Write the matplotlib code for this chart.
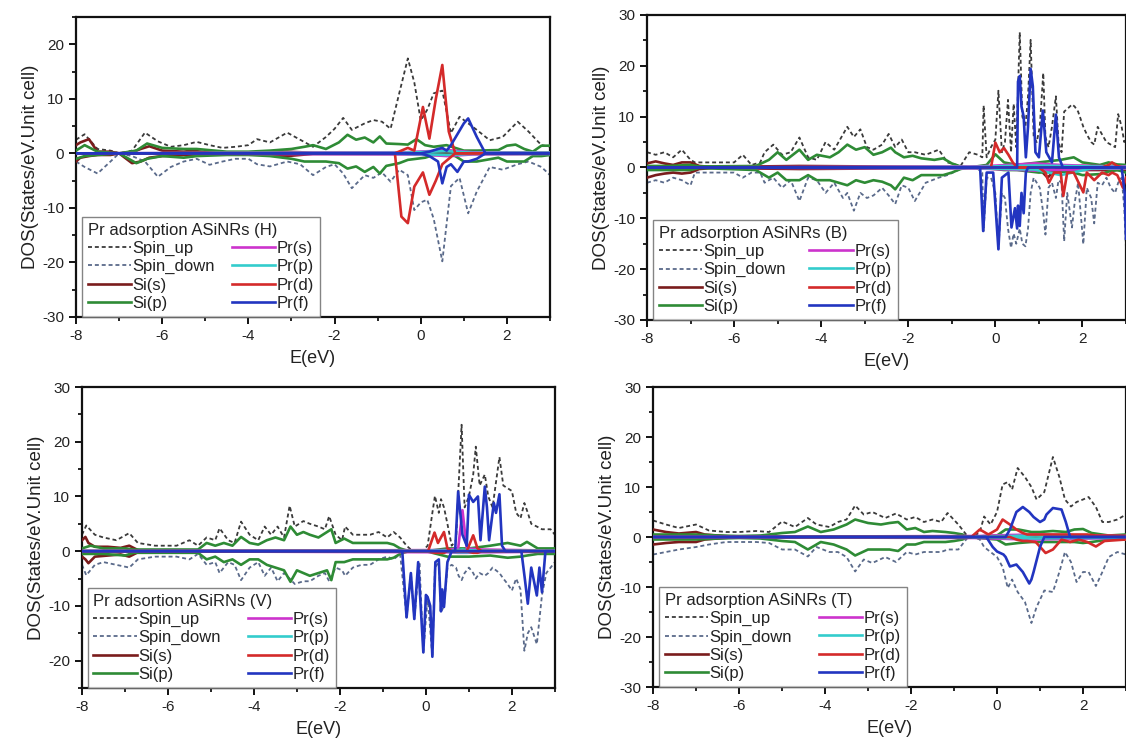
import matplotlib
matplotlib.use("Agg")
import matplotlib.pyplot as plt
from matplotlib.ticker import MultipleLocator

plt.rcParams['font.family'] = ['Liberation Sans', 'DejaVu Sans']
plt.rcParams['axes.unicode_minus'] = False

# ---------------- legend / labels ----------------
series_labels = ["Spin_up", "Spin_down", "Si(s)", "Si(p)", "Pr(s)", "Pr(p)", "Pr(d)", "Pr(f)"]
panel_titles = ["Pr adsorption ASiNRs (H)", "Pr adsorption ASiNRs (B)",
                "Pr adsortion ASiRNs (V)", "Pr adsorption ASiNRs (T)"]
x_ticks = [-8, -6, -4, -2, 0, 2]
x_label = "E(eV)"
y_label = "DOS(States/eV.Unit cell)"

# ================= Panel H =================
H_tot_E = [-8, -7.8, -7.5, -7.2, -7.0, -6.7, -6.4, -6.1, -5.8, -5.5, -5.2, -4.9, -4.6, -4.3, -4.0,
           -3.8, -3.5, -3.1, -2.8, -2.5, -2.2, -2.0, -1.8, -1.6, -1.3, -1.1, -0.9, -0.7, -0.5, -0.3,
           -0.15, 0.0, 0.15, 0.3, 0.5, 0.7, 0.9, 1.1, 1.3, 1.6, 1.9, 2.25, 2.5, 2.8, 3.0]
H_spin_up = [2.5, 3.5, 0.8, 0.5, 0.0, 0.5, 3.8, 2.2, 1.2, 1.5, 2.1, 1.5, 1.0, 1.2, 1.5,
             2.6, 2.0, 3.8, 2.5, 1.2, 3.0, 4.5, 6.5, 4.3, 5.5, 6.1, 5.8, 4.5, 11.0, 17.4,
             13.0, 6.0, 8.0, 11.0, 11.5, 3.7, 6.7, 5.5, 4.3, 2.4, 3.0, 5.8, 4.0, 1.5, 1.2]
H_spin_down = [-1.5, -2.5, -3.7, -1.5, 0.0, -0.5, -1.5, -4.3, -2.5, -1.5, -1.0, -2.1, -1.5, -1.0, -1.0,
               -2.0, -2.4, -1.5, -2.0, -4.0, -2.5, -2.0, -3.7, -6.4, -4.0, -4.5, -3.5, -5.2, -3.0, -4.0,
               -10.4, -9.0, -8.5, -12.0, -19.8, -6.0, -4.5, -11.0, -7.0, -2.5, -3.0, -2.0, -1.5, -2.5, -4.0]

H_sis_E = [-8, -7.9, -7.7, -7.5, -7.2, -7.0, -6.7, -6.5, -6.3, -6.0, -5.5, -5.3, -5.0, -4.0, -3.1,
           -2.5, -1.0, 0.0, 1.0, 2.0, 3.0]
H_sis_up = [1.5, 2.0, 2.6, 0.3, 0.3, 0.0, 0.2, 0.8, 1.3, 0.5, 0.3, 0.5, 0.2, 0.1, 0.3,
            0.1, 0.1, 0.1, 0.1, 0.1, 0.1]
H_sis_dn = [-1.5, -0.8, -0.5, -0.3, -0.3, 0.0, -1.8, -1.5, -0.8, -0.5, -0.3, -0.5, -0.2, -0.1, -0.5,
            -0.1, -0.1, -0.1, -0.1, -0.1, -0.1]

H_sip_E = [-8, -7.8, -7.5, -7.0, -6.6, -6.35, -6.0, -5.5, -5.2, -4.5, -4.0, -3.5, -3.0, -2.7, -2.5,
           -2.2, -1.9, -1.7, -1.5, -1.3, -1.1, -0.95, -0.8, -0.5, -0.3, -0.1, 0.1, 0.3, 0.6, 0.8,
           1.0, 1.3, 1.8, 2.0, 2.2, 2.4, 2.6, 2.8, 3.0]
H_sip_up = [0.5, 1.5, 0.3, 0.0, 0.5, 1.8, 1.0, 0.8, 0.8, 0.3, 0.3, 0.5, 0.8, 1.2, 1.5,
            0.8, 2.0, 3.4, 2.5, 2.9, 2.0, 3.1, 1.8, 1.7, 1.6, 2.6, 1.5, 1.2, 1.5, 1.0,
            0.5, 0.5, 0.6, 1.4, 1.6, 0.8, 0.3, 1.4, 1.4]
H_sip_dn = [-1.0, -0.5, -0.3, 0.0, -1.8, -1.0, -0.5, -0.8, -0.5, -0.3, -0.3, -0.5, -1.0, -1.5, -1.5,
            -1.5, -1.8, -2.8, -2.4, -3.4, -2.5, -3.7, -2.3, -1.8, -1.2, -1.0, -0.8, -0.3, -0.3, -0.5,
            -1.5, -1.5, -0.8, -1.5, -1.5, -1.5, -0.5, -0.5, -0.3]

H_prs_E = [-8, -0.4, 0.2, 0.6, 1.2, 3.0]
H_prs_up = [0.0, 0.2, 0.4, 0.6, 0.2, 0.1]
H_prs_dn = [0.0, -0.2, -0.3, -0.5, -0.2, -0.1]
H_prp_up = [0.0, 0.1, 0.3, 0.4, 0.1, 0.1]
H_prp_dn = [0.0, -0.1, -0.2, -0.3, -0.1, -0.1]

H_prd_E = [-8, -0.6, -0.45, -0.3, -0.15, 0.05, 0.2, 0.35, 0.5, 0.65, 0.8, 3.0]
H_prd_up = [0.0, 0.0, 0.5, 1.0, 0.5, 8.5, 2.7, 10.0, 16.2, 4.0, 0.0, 0.0]
H_prd_dn = [0.0, 0.0, -11.6, -12.8, -6.1, -3.5, -7.6, -5.0, -2.0, -1.0, 0.0, 0.0]

H_prf_E = [-8, 0.0, 0.2, 0.4, 0.5, 0.6, 0.7, 0.85, 1.0, 1.1, 1.3, 1.5, 3.0]
H_prf_up = [0.0, 0.0, 0.3, 0.8, 1.0, 0.5, 1.5, 3.5, 5.5, 6.4, 3.0, 0.0, 0.0]
H_prf_dn = [0.0, 0.0, -0.5, -1.5, -5.5, -2.5, -2.0, -3.4, -1.5, -1.5, -1.0, 0.0, 0.0]

# ================= Panel B =================
B_tot_E = [-8, -7.8, -7.6, -7.4, -7.2, -7.0, -6.9, -6.5, -6.0, -5.8, -5.6, -5.4, -5.3, -5.1, -4.9,
           -4.7, -4.5, -4.3, -4.1, -3.9, -3.7, -3.5, -3.4, -3.25, -3.1, -2.95, -2.8, -2.6, -2.45, -2.3,
           -2.15, -2.0, -1.85, -1.6, -1.3, -1.1, -0.8, -0.6, -0.4, -0.3, -0.27, -0.2, -0.1, 0.0, 0.07,
           0.15, 0.22, 0.29, 0.36, 0.42, 0.48, 0.56, 0.62, 0.69, 0.75, 0.81, 0.88, 0.95, 1.02, 1.1,
           1.15, 1.22, 1.3, 1.39, 1.45, 1.52, 1.58, 1.65, 1.76, 1.82, 1.9, 2.02, 2.1, 2.2, 2.27,
           2.35, 2.45, 2.55, 2.65, 2.75, 2.82, 2.9, 2.96, 3.0]
B_spin_up = [3.0, 2.5, 3.0, 2.0, 3.5, 1.5, 1.0, 1.0, 1.0, 2.5, 0.5, 1.0, 3.0, 4.5, 2.5,
             3.0, 5.9, 2.0, 1.5, 5.0, 3.5, 6.5, 8.0, 6.0, 7.5, 4.0, 3.5, 4.5, 6.6, 4.0,
             5.5, 3.0, 3.0, 2.5, 3.5, 1.0, 0.3, 3.0, 2.5, 2.0, 12.2, 2.0, 4.0, 5.5, 15.1,
             3.0, 5.0, 13.3, 3.0, 12.5, 4.0, 26.6, 10.0, 8.0, 14.0, 25.1, 6.0, 5.0, 8.0, 18.6,
             6.0, 4.0, 8.0, 14.0, 5.0, 3.0, 11.0, 11.5, 12.4, 12.0, 11.0, 8.0, 6.5, 5.0, 4.5,
             8.0, 6.5, 5.0, 4.5, 4.0, 10.5, 8.0, 5.0, 6.0]
B_spin_down = [-3.0, -2.5, -3.0, -2.0, -2.5, -3.5, -1.0, -1.0, -1.0, -2.0, -1.0, -1.0, -3.0, -2.0, -4.0,
               -2.5, -6.6, -2.0, -2.5, -5.0, -3.0, -6.0, -5.0, -8.5, -5.0, -6.0, -5.5, -4.0, -5.5, -7.2,
               -3.5, -4.0, -6.6, -3.0, -2.0, -1.5, -0.3, 0.0, -0.3, -1.0, -12.5, -2.0, -2.0, -5.0, -16.0,
               -5.0, -6.0, -12.0, -15.8, -13.0, -15.0, -12.0, -15.0, -15.5, -12.0, -5.0, -2.0, -3.0, -4.0, -9.0,
               -13.2, -4.0, -3.0, -6.0, -2.5, -3.0, -14.5, -5.0, -11.8, -7.0, -3.0, -15.1, -4.0, -6.0, -11.0,
               -3.0, -3.5, -2.0, -4.0, -5.0, -3.0, -2.0, -8.0, -16.0]

B_sis_E = [-8, -7.8, -7.6, -7.4, -7.2, -7.0, -6.8, -6.5, -4.5, -1.0, 1.0, 1.2, 1.4, 2.0, 3.0]
B_sis_up = [0.8, 1.2, 0.8, 0.5, 1.0, 1.0, 0.3, 0.1, 0.3, 0.1, 0.1, 0.3, 0.1, 0.3, 0.2]
B_sis_dn = [-2.0, -1.5, -1.2, -1.0, -1.2, -1.0, -0.3, -0.1, -0.3, -0.1, -0.2, -2.0, -0.3, -0.5, -0.5]

B_sip_E = [-8, -7.5, -7.0, -6.8, -5.5, -5.2, -5.0, -4.8, -4.5, -4.3, -4.1, -3.8, -3.6, -3.4, -3.2,
           -3.0, -2.8, -2.6, -2.4, -2.3, -2.1, -1.9, -1.7, -1.4, -1.2, -1.0, -0.8, -0.6, -0.2, 0.0,
           0.2, 0.5, 1.0, 1.5, 1.8, 2.0, 2.4, 2.6, 2.8, 3.0]
B_sip_up = [0.3, 0.3, 0.5, 0.2, 0.3, 1.5, 3.0, 1.5, 3.5, 1.5, 2.5, 2.0, 3.0, 4.5, 3.5,
            4.0, 2.5, 3.0, 3.9, 3.0, 2.0, 2.3, 1.8, 1.5, 1.8, 0.8, 0.2, 0.0, 0.5, 2.6,
            1.0, 0.5, 1.0, 1.5, 2.0, 1.0, 0.5, 1.0, 0.6, 0.5]
B_sip_dn = [-0.5, -0.5, -0.5, -0.1, -0.5, -2.0, -1.0, -2.5, -2.5, -1.5, -2.5, -2.5, -3.0, -3.5, -2.5,
            -3.0, -2.5, -2.8, -3.5, -4.3, -2.0, -2.5, -1.5, -1.5, -1.5, -1.0, -0.3, 0.0, -0.2, -0.3,
            -0.5, -0.5, -1.0, -0.8, -1.0, -1.5, -1.3, -0.8, -0.5, -1.0]

B_prs_E = [-8, -0.4, 0.3, 0.9, 1.5, 2.2, 3.0]
B_prs_up = [0.0, 0.2, 0.5, 0.8, 0.5, 0.3, 0.2]
B_prs_dn = [0.0, -0.2, -0.4, -0.6, -0.5, -0.3, -0.2]
B_prp_up = [0.0, 0.1, 0.3, 0.4, 0.3, 0.2, 0.1]
B_prp_dn = [0.0, -0.1, -0.3, -0.4, -1.5, -0.2, -0.1]

B_prd_E = [-8, -0.1, 0.0, 0.1, 0.2, 0.3, 0.4, 0.5, 1.0, 1.15, 1.23, 1.35, 1.5, 1.56, 1.65,
           1.8, 2.02, 2.1, 2.27, 2.45, 2.6, 2.68, 2.8, 2.93, 3.0]
B_prd_up = [0.0, 0.0, 4.9, 3.0, 3.8, 2.5, 1.0, 0.0, 0.0, 0.0, 0.0, 0.0, 0.0, 0.0, 0.0,
            0.0, 0.0, 0.0, 0.0, 0.0, 0.5, 1.0, 0.3, 0.0, 0.0]
B_prd_dn = [0.0, 0.0, 0.0, 0.0, 0.0, 0.0, 0.0, 0.0, 0.0, -1.0, -3.0, -1.0, -1.0, -5.6, -1.0,
            -1.0, -4.9, -1.0, -2.5, -1.0, -1.5, -1.0, -1.5, -4.0, -2.0]

B_prf_E = [-8, -0.35, -0.28, -0.2, -0.05, 0.07, 0.15, 0.3, 0.37, 0.45, 0.5, 0.52, 0.56, 0.6, 0.65,
           0.7, 0.75, 0.81, 0.86, 0.92, 1.0, 1.09, 1.17, 1.3, 1.39, 1.46, 1.55, 2.9, 2.97, 3.0]
B_prf_up = [0.0, 0.0, 0.0, 0.0, 0.0, 0.0, 0.0, 0.0, 0.0, 0.0, 0.0, 16.9, 18.0, 12.0, 10.0,
            2.0, 8.0, 19.4, 16.0, 3.0, 2.0, 11.2, 3.0, 1.0, 10.4, 2.0, 0.0, 0.0, 0.0, 0.0]
B_prf_dn = [0.0, 0.0, -12.5, -1.0, -1.0, -16.1, -2.0, -1.0, -11.8, -8.0, -12.0, -7.5, -11.5, -5.0, -9.0,
            -1.0, 0.0, 0.0, 0.0, 0.0, 0.0, 0.0, 0.0, 0.0, 0.0, 0.0, 0.0, 0.0, -5.0, -14.0]

# ================= Panel V =================
V_tot_E = [-8, -7.9, -7.7, -7.5, -7.2, -6.9, -6.7, -6.3, -5.8, -5.5, -5.3, -5.1, -4.9, -4.8, -4.6,
           -4.45, -4.3, -4.1, -3.9, -3.75, -3.6, -3.45, -3.3, -3.17, -3.05, -2.85, -2.7, -2.5, -2.35, -2.25,
           -2.1, -1.95, -1.88, -1.7, -1.5, -1.3, -1.1, -0.9, -0.75, -0.6, -0.45, -0.35, -0.27, -0.15, -0.06,
           0.04, 0.15, 0.21, 0.3, 0.35, 0.42, 0.5, 0.6, 0.7, 0.76, 0.83, 0.9, 1.0, 1.1, 1.16,
           1.25, 1.37, 1.45, 1.55, 1.71, 1.8, 1.9, 2.0, 2.1, 2.2, 2.29, 2.37, 2.45, 2.58, 2.7,
           2.8, 2.9, 3.0]
V_spin_up = [3.0, 4.7, 3.0, 2.5, 2.0, 3.3, 1.5, 1.0, 1.0, 2.0, 1.0, 2.5, 2.0, 4.2, 2.0,
             1.5, 5.4, 3.0, 2.0, 4.5, 3.0, 4.5, 2.5, 8.3, 4.5, 5.5, 5.0, 4.5, 4.0, 6.4,
             3.0, 2.0, 4.5, 3.0, 3.0, 3.0, 3.5, 2.5, 3.5, 2.5, 1.0, 0.3, 0.2, 0.1, 0.2,
             1.0, 7.0, 10.1, 7.0, 9.5, 8.0, 5.0, 1.0, 2.0, 12.0, 23.1, 8.0, 10.0, 14.0, 19.1,
             12.0, 14.0, 10.0, 8.0, 17.2, 12.0, 11.5, 11.0, 7.0, 6.0, 8.8, 7.0, 5.0, 4.5, 4.0,
             4.0, 4.0, 3.0]
V_spin_down = [-2.5, -4.4, -2.5, -2.0, -2.5, -3.0, -1.5, -1.0, -1.0, -1.5, -0.5, -2.5, -2.0, -4.0, -2.0,
               -2.5, -5.3, -3.0, -2.0, -4.5, -3.0, -5.5, -4.0, -5.0, -6.0, -5.5, -5.5, -4.5, -4.0, -5.5,
               -3.0, -3.5, -4.5, -3.0, -2.5, -2.5, -1.5, -1.0, -1.5, -0.5, -12.1, -4.0, -12.4, -2.0, -18.5,
               -8.4, -19.3, -3.0, -2.0, -11.0, -10.2, -3.0, -2.5, -3.0, -4.5, -5.3, -4.0, -3.0, -4.0, -5.0,
               -4.0, -4.5, -4.0, -3.0, -4.0, -5.0, -6.0, -7.2, -5.0, -7.0, -18.2, -15.0, -13.9, -17.0, -8.0,
               -4.0, -3.0, -2.0]

V_sis_E = [-8, -7.92, -7.85, -7.7, -7.4, -7.1, -6.9, -6.7, -6.5, 3.0]
V_sis_up = [2.0, 2.6, 1.5, 0.8, 0.8, 0.6, 1.0, 0.2, 0.0, 0.0]
V_sis_dn = [-1.0, -1.5, -2.2, -1.0, -0.8, -0.6, -1.0, -0.2, 0.0, 0.0]

V_sip_E = [-8, -7.8, -7.5, -7.0, -6.8, -5.3, -5.1, -4.9, -4.7, -4.5, -4.3, -4.1, -3.9, -3.7, -3.5,
           -3.3, -3.15, -3.0, -2.85, -2.7, -2.5, -2.3, -2.2, -2.1, -1.9, -1.7, -1.5, -1.3, -1.1, -0.9,
           -0.75, -0.6, -0.4, 0.0, 0.5, 1.0, 1.5, 1.9, 2.2, 2.35, 2.6, 3.0]
V_sip_up = [0.5, 1.0, 0.5, 0.5, 0.3, 0.3, 1.5, 1.0, 1.5, 1.0, 2.6, 1.5, 1.2, 2.0, 2.5,
            2.0, 4.5, 3.0, 3.5, 3.0, 2.5, 3.5, 4.0, 1.5, 2.3, 1.5, 1.5, 1.5, 1.5, 1.5,
            1.2, 0.5, 0.0, 0.0, 0.5, 0.5, 1.0, 1.5, 1.0, 1.7, 0.5, 0.5]
V_sip_dn = [-0.5, -0.5, -0.5, -0.8, -0.3, -0.3, -1.5, -1.0, -2.0, -1.5, -2.5, -1.5, -1.5, -2.5, -3.0,
            -3.5, -5.6, -3.5, -4.0, -4.5, -4.0, -3.5, -5.3, -2.0, -2.0, -1.5, -1.5, -1.5, -1.5, -1.5,
            -1.2, -0.5, 0.0, 0.0, -1.0, -1.0, -0.8, -1.2, -1.0, -0.8, -0.5, -0.5]

V_prs_E = [-8, 0.5, 0.75, 0.85, 0.95, 1.3, 3.0]
V_prs_up = [0.0, 0.2, 0.5, 7.5, 0.5, 0.3, 0.1]
V_prs_dn = [0.0, -0.2, -0.3, -0.3, -0.3, -0.2, -0.1]
V_prp_up = [0.0, 0.1, 0.2, 0.3, 0.2, 0.1, 0.1]
V_prp_dn = [0.0, -0.1, -0.2, -0.2, -0.2, -0.1, -0.1]

V_prd_E = [-8, 0.05, 0.2, 0.28, 0.42, 0.5, 0.6, 0.95, 1.1, 1.2, 1.3, 3.0]
V_prd_up = [0.0, 0.0, 3.4, 1.5, 3.5, 0.5, 0.0, 0.0, 2.9, 0.5, 0.0, 0.0]
V_prd_dn = [0.0, 0.0, -0.3, -0.3, -0.3, 0.0, 0.0, 0.0, -0.3, -0.3, 0.0, 0.0]

V_prf_E = [-8, -0.55, -0.45, -0.35, -0.27, -0.18, -0.06, 0.0, 0.04, 0.1, 0.15, 0.22, 0.3, 0.35, 0.38,
           0.42, 0.5, 0.6, 0.68, 0.75, 0.85, 0.95, 1.0, 1.1, 1.21, 1.27, 1.37, 1.42, 1.47, 1.58,
           1.63, 1.71, 1.77, 1.85, 2.22, 2.3, 2.37, 2.45, 2.58, 2.64, 2.7, 2.78, 3.0]
V_prf_up = [0.0, 0.0, 0.0, 0.0, 0.0, 0.0, 0.0, 0.0, 0.0, 0.0, 0.0, 0.0, 0.0, 0.0, 0.0,
            0.0, 0.0, 0.0, 0.0, 10.9, 3.0, 1.0, 10.3, 9.0, 10.0, 2.0, 11.8, 8.0, 2.0, 8.8,
            7.0, 10.4, 1.0, 0.0, 0.0, 0.0, 0.0, 0.0, 0.0, 0.0, 0.0, 0.0, 0.0]
V_prf_dn = [0.0, 0.0, -12.1, -4.0, -12.4, -2.0, -18.5, -8.0, -8.4, -10.0, -19.3, -2.0, -1.5, -11.0, -7.0,
            -10.2, -2.0, 0.0, 0.0, 0.0, 0.0, 0.0, 0.0, 0.0, 0.0, 0.0, 0.0, 0.0, 0.0, 0.0,
            0.0, 0.0, 0.0, 0.0, 0.0, -5.0, -9.6, -3.0, -8.1, -3.0, -7.5, 0.0, 0.0]

# ================= Panel T =================
T_tot_E = [-8, -7.7, -7.4, -7.0, -6.7, -6.3, -6.0, -5.6, -5.3, -5.0, -4.7, -4.4, -4.2, -3.9, -3.7,
           -3.5, -3.3, -3.1, -2.9, -2.6, -2.35, -2.1, -1.9, -1.7, -1.5, -1.3, -1.15, -0.9, -0.7, -0.55,
           -0.4, -0.3, -0.15, 0.0, 0.13, 0.25, 0.35, 0.48, 0.65, 0.8, 0.92, 1.1, 1.3, 1.45, 1.58,
           1.72, 1.85, 2.0, 2.13, 2.3, 2.45, 2.6, 2.8, 3.0]
T_spin_up = [3.3, 2.5, 1.8, 2.5, 1.3, 1.0, 1.0, 1.2, 1.0, 3.1, 2.0, 3.8, 2.5, 2.0, 3.0,
             3.5, 6.3, 4.5, 5.0, 3.8, 4.7, 3.5, 4.0, 3.0, 3.5, 3.0, 4.8, 2.5, 0.3, 0.0,
             1.0, 4.1, 2.5, 5.0, 10.5, 11.0, 9.5, 13.8, 12.0, 10.0, 7.5, 9.0, 16.0, 12.0, 7.5,
             6.1, 7.0, 7.5, 8.0, 6.0, 3.0, 3.0, 3.5, 4.5]
T_spin_down = [-3.5, -3.0, -2.5, -2.0, -1.5, -1.0, -1.0, -1.0, -1.2, -2.5, -2.5, -3.9, -2.0, -3.0, -3.0,
               -4.0, -6.9, -4.5, -5.2, -4.0, -5.0, -3.0, -3.5, -3.0, -3.0, -3.0, -2.5, -2.5, -0.3, 0.0,
               -0.5, -2.0, -3.0, -4.0, -6.0, -10.2, -8.5, -11.0, -13.0, -17.2, -14.0, -10.7, -11.0, -7.0, -3.0,
               -5.0, -9.0, -7.0, -7.0, -9.8, -7.0, -4.0, -3.0, -3.5]

T_sis_E = [-8, -7.7, -7.4, -7.0, -6.8, -6.5, -6.2, 3.0]
T_sis_up = [1.5, 1.0, 0.7, 1.0, 0.5, 0.3, 0.1, 0.0]
T_sis_dn = [-1.5, -1.2, -1.0, -1.0, -0.5, -0.3, -0.1, 0.0]

T_sip_E = [-8, -7.5, -7.0, -6.5, -6.0, -5.5, -5.0, -4.7, -4.4, -4.1, -3.8, -3.5, -3.3, -3.0, -2.7,
           -2.5, -2.3, -2.1, -1.9, -1.7, -1.5, -1.2, -1.0, -0.8, -0.7, 0.0, 0.2, 0.5, 0.8, 1.0,
           1.3, 1.6, 1.8, 2.0, 2.2, 2.6, 3.0]
T_sip_up = [0.5, 0.5, 0.5, 0.3, 0.2, 0.3, 0.8, 1.0, 2.1, 1.0, 1.5, 2.5, 3.5, 2.8, 2.5,
            2.8, 3.0, 1.5, 1.8, 1.0, 1.2, 1.0, 0.8, 0.5, 0.0, 0.3, 1.5, 1.5, 1.0, 1.0,
            1.2, 1.0, 1.5, 1.6, 0.8, 0.3, 0.5]
T_sip_dn = [-0.5, -0.5, -0.5, -0.3, -0.2, -0.3, -0.8, -1.0, -2.5, -1.0, -1.5, -2.5, -3.7, -2.5, -2.5,
            -2.5, -2.8, -1.5, -1.5, -1.0, -1.0, -1.0, -0.8, -0.5, 0.0, -0.5, -1.5, -1.2, -1.0, -1.0,
            -1.0, -1.0, -1.0, -1.2, -1.0, -0.5, -0.5]

T_prs_E = [-8, -0.4, 0.3, 0.9, 1.5, 2.2, 3.0]
T_prs_up = [0.0, 0.2, 0.4, 0.5, 0.4, 0.3, 0.2]
T_prs_dn = [0.0, -0.2, -0.4, -0.5, -0.4, -0.3, -0.2]
T_prp_up = [0.0, 0.1, 0.2, 0.3, 0.2, 0.2, 0.1]
T_prp_dn = [0.0, -0.1, -0.2, -0.3, -0.2, -0.2, -0.1]

T_prd_E = [-8, -0.6, -0.4, -0.2, 0.0, 0.13, 0.3, 0.45, 0.6, 0.7, 0.9, 1.13, 1.3, 1.5, 1.7,
           1.9, 2.1, 2.3, 2.5, 3.0]
T_prd_up = [0.0, 0.0, 1.5, 0.5, 1.5, 3.5, 2.5, 1.5, 0.8, 0.5, 0.5, 0.5, 0.5, 0.5, 0.5,
            0.5, 0.5, 0.3, 0.3, 0.2]
T_prd_dn = [0.0, 0.0, 0.0, 0.0, 0.0, 0.0, 0.0, -0.5, -0.8, -0.8, -1.0, -3.2, -2.5, -0.5, -1.0,
            -0.5, -1.0, -1.9, -0.8, -0.5]

T_prf_E = [-8, -0.25, -0.1, 0.0, 0.15, 0.2, 0.3, 0.45, 0.6, 0.75, 0.8, 0.85, 1.0, 1.1, 1.15,
           1.3, 1.5, 1.6, 1.7, 3.0]
T_prf_up = [0.0, 0.0, 0.0, 0.0, 0.0, 0.0, 1.5, 5.0, 6.0, 5.0, 4.5, 4.0, 3.0, 3.5, 4.5,
            5.8, 5.5, 3.0, 0.0, 0.0]
T_prf_dn = [0.0, 0.0, -2.0, -2.9, -3.5, -4.0, -5.9, -5.5, -7.0, -9.3, -8.5, -7.0, -2.0, 0.0, 0.0,
            0.0, 0.0, 0.0, 0.0, 0.0]

# ---------------- styles ----------------
C_UP = "#3a3a3a"
C_DN = "#5a6a8a"
C_SIS = "#7a1c1c"
C_SIP = "#2e8b35"
C_PRS = "#cc33cc"
C_PRP = "#33cccc"
C_PRD = "#d42a2a"
C_PRF = "#2235c0"
DOT = (0, (2.2, 1.6))

panels = [
    dict(title=panel_titles[0], ylim=(-30, 25),
         tot=(H_tot_E, H_spin_up, H_spin_down),
         sis=(H_sis_E, H_sis_up, H_sis_dn), sip=(H_sip_E, H_sip_up, H_sip_dn),
         prs=(H_prs_E, H_prs_up, H_prs_dn), prp=(H_prs_E, H_prp_up, H_prp_dn),
         prd=(H_prd_E, H_prd_up, H_prd_dn), prf=(H_prf_E, H_prf_up, H_prf_dn),
         rect=[0.0675, 0.5705, 0.421, 0.4065], colsp=1.0),
    dict(title=panel_titles[1], ylim=(-30, 30),
         tot=(B_tot_E, B_spin_up, B_spin_down),
         sis=(B_sis_E, B_sis_up, B_sis_dn), sip=(B_sip_E, B_sip_up, B_sip_dn),
         prs=(B_prs_E, B_prs_up, B_prs_dn), prp=(B_prs_E, B_prp_up, B_prp_dn),
         prd=(B_prd_E, B_prd_up, B_prd_dn), prf=(B_prf_E, B_prf_up, B_prf_dn),
         rect=[0.5746, 0.5664, 0.4254, 0.4133], colsp=1.4),
    dict(title=panel_titles[2], ylim=(-25, 30),
         tot=(V_tot_E, V_spin_up, V_spin_down),
         sis=(V_sis_E, V_sis_up, V_sis_dn), sip=(V_sip_E, V_sip_up, V_sip_dn),
         prs=(V_prs_E, V_prs_up, V_prs_dn), prp=(V_prs_E, V_prp_up, V_prp_dn),
         prd=(V_prd_E, V_prd_up, V_prd_dn), prf=(V_prf_E, V_prf_up, V_prf_dn),
         rect=[0.0728, 0.0678, 0.420, 0.4078], colsp=1.6),
    dict(title=panel_titles[3], ylim=(-30, 30),
         tot=(T_tot_E, T_spin_up, T_spin_down),
         sis=(T_sis_E, T_sis_up, T_sis_dn), sip=(T_sip_E, T_sip_up, T_sip_dn),
         prs=(T_prs_E, T_prs_up, T_prs_dn), prp=(T_prs_E, T_prp_up, T_prp_dn),
         prd=(T_prd_E, T_prd_up, T_prd_dn), prf=(T_prf_E, T_prf_up, T_prf_dn),
         rect=[0.580, 0.0691, 0.420, 0.4065], colsp=1.6),
]

fig = plt.figure(figsize=(11.26, 7.38), dpi=100)
TXT = "#222222"

for p in panels:
    ax = fig.add_axes(p["rect"])
    E, up, dn = p["tot"]
    h_up, = ax.plot(E, up, color=C_UP, lw=1.3, ls=DOT, zorder=2)
    h_dn, = ax.plot(E, dn, color=C_DN, lw=1.3, ls=DOT, zorder=2)
    handles = [h_up, h_dn]
    for key, col in (("sis", C_SIS), ("sip", C_SIP), ("prs", C_PRS),
                     ("prp", C_PRP), ("prd", C_PRD), ("prf", C_PRF)):
        e, u, d = p[key]
        h, = ax.plot(e, u, color=col, lw=1.9, zorder=3)
        ax.plot(e, d, color=col, lw=1.9, zorder=3)
        handles.append(h)

    ax.set_xlim(-8, 3)
    ax.set_ylim(*p["ylim"])
    ax.set_xticks(x_ticks)
    ax.xaxis.set_minor_locator(MultipleLocator(1))
    ax.yaxis.set_major_locator(MultipleLocator(10))
    ax.yaxis.set_minor_locator(MultipleLocator(5))
    ax.tick_params(which="major", direction="out", length=5, width=1.4,
                   labelsize=11, colors="#111111", labelcolor=TXT, top=False, right=False)
    ax.tick_params(which="minor", direction="out", length=3, width=1.2,
                   top=False, right=False)
    for s in ax.spines.values():
        s.set_linewidth(1.6)
        s.set_color("#111111")
    ax.set_xlabel(x_label, fontsize=13, color=TXT, labelpad=5)
    ax.set_ylabel(y_label, fontsize=13.5, color=TXT, labelpad=2)

    leg = ax.legend(handles, series_labels, ncol=2, loc="lower left",
                    bbox_to_anchor=(0.012, 0.0), borderaxespad=0.0,
                    title=p["title"], title_fontsize=12, fontsize=12,
                    frameon=True, fancybox=False, edgecolor="#666666",
                    handlelength=2.6, handletextpad=0.1, labelspacing=0.2,
                    columnspacing=p["colsp"], borderpad=0.35, alignment="left")
    leg.get_frame().set_linewidth(1.0)
    for t in leg.get_texts():
        t.set_color(TXT)
    leg.get_title().set_color(TXT)

fig.savefig("out.png", dpi=100)
